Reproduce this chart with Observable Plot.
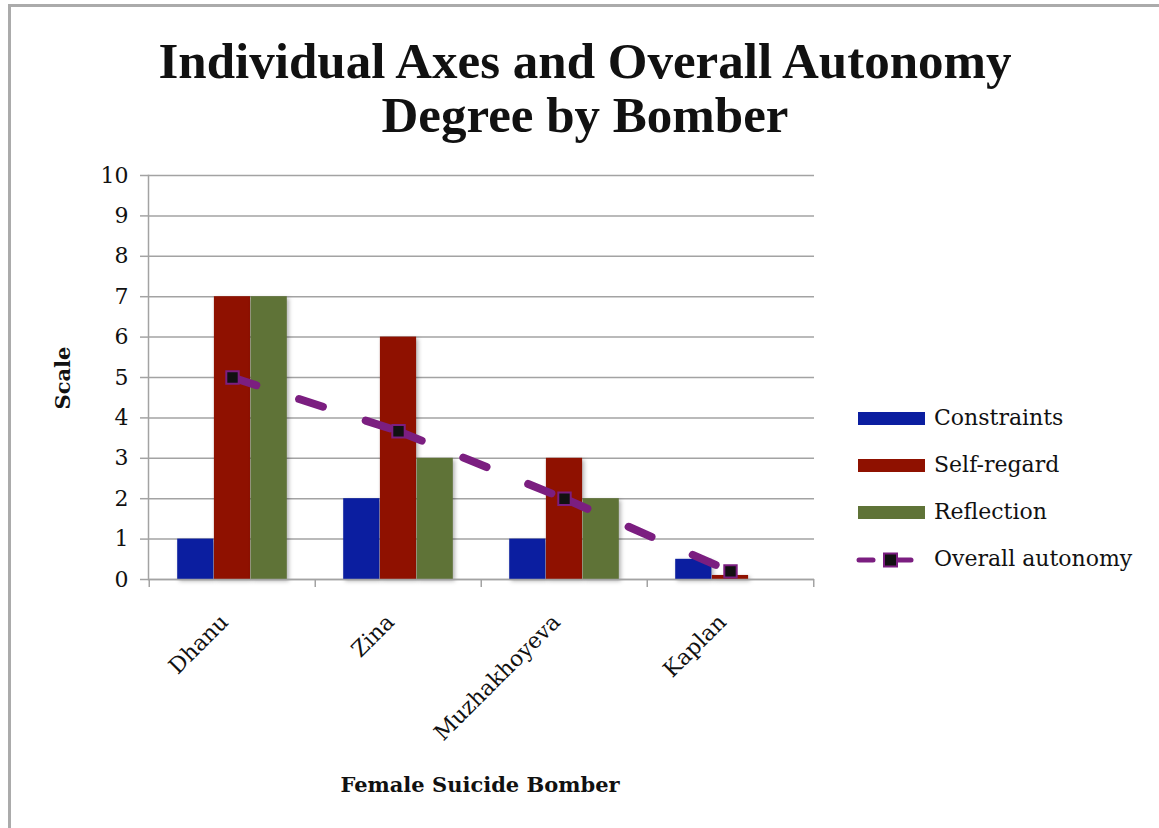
<!DOCTYPE html>
<html>
<head>
<meta charset="utf-8">
<script src="https://cdn.jsdelivr.net/npm/d3@7"></script>
<script src="https://cdn.jsdelivr.net/npm/@observablehq/plot@0.6"></script>
<style>
  html, body { margin: 0; padding: 0; background: #fff; }
  #wrap { position: relative; width: 1159px; height: 828px; overflow: hidden; font-family: "DejaVu Serif", serif; color: #111; }
  #frame { position: absolute; left: 8px; top: 4px; width: 1160px; height: 830px; border-left: 3px solid #ababab; border-top: 3px solid #ababab; box-sizing: border-box; }
  #title { position: absolute; left: 0; top: 0; width: 1170px; height: 160px; text-align: center; font-family: "Liberation Serif", serif; font-weight: bold; font-size: 51px; line-height: 54px; padding-top: 34px; box-sizing: border-box; }
  #chart { position: absolute; left: 0; top: 160px; }
  #ylab { position: absolute; left: 62px; top: 378px; transform: translate(-50%, -50%) rotate(-90deg); font-weight: bold; font-size: 21px; white-space: nowrap; }
  #xlab { position: absolute; left: 480px; top: 772px; transform: translateX(-50%); font-weight: bold; font-size: 21px; white-space: nowrap; }
  #legend { position: absolute; left: 856px; top: 402px; font-size: 22px; }
  .row { position: absolute; left: 0; height: 30px; width: 300px; }
  .sw { position: absolute; left: 2px; top: 10px; width: 67px; height: 13px; }
  .lt { position: absolute; left: 78px; top: 3px; white-space: nowrap; }
  svg g[aria-label="bar"] { filter: drop-shadow(2px 2px 2px rgba(0,0,0,0.3)); }
</style>
</head>
<body>
<div id="wrap">
  <div id="frame"></div>
  <div id="title">Individual Axes and Overall Autonomy<br>Degree by Bomber</div>
  <div id="chart"></div>
  <div id="ylab">Scale</div>
  <div id="xlab">Female Suicide Bomber</div>
  <div id="legend"></div>
</div>
<script>
// ---- data ----
const bombers = ["Dhanu", "Zina", "Muzhakhoyeva", "Kaplan"];
const constraints = [1, 2, 1, 0.5];
const selfRegard = [7, 6, 3, 0.1];
const reflection = [7, 3, 2, 0];
const overall = [5, 3.67, 2, 0.2];
const yTicks = [0, 1, 2, 3, 4, 5, 6, 7, 8, 9, 10];
const seriesNames = ["Constraints", "Self-regard", "Reflection", "Overall autonomy"];
const seriesColors = ["#0b1ea0", "#8f1100", "#5f7337", "#7b1e80"];

// ---- layout ----
const W = 1159, H = 668;
const mL = 148, mR = 345, mT = 15, mB = 249;
const bandW = (W - mL - mR) / bombers.length;
const barW = 36.7;
const inset = (bandW - barW) / 2;

const rows = bombers.map((b, i) => ({
  bomber: b, constraints: constraints[i], selfRegard: selfRegard[i],
  reflection: reflection[i], overall: overall[i]
}));
const segs = rows.slice(1).map((r, i) => ({ a: rows[i].bomber, ya: rows[i].overall, b: r.bomber, yb: r.overall }));
const gray = "#a3a3a3";

const chart = Plot.plot({
  width: W, height: H,
  marginLeft: mL, marginRight: mR, marginTop: mT, marginBottom: mB,
  style: { fontFamily: "DejaVu Serif, serif", fontSize: "22px", color: "#111", background: "transparent" },
  x: { domain: bombers, padding: 0, axis: null },
  y: { domain: [0, 10], axis: null },
  marks: [
    Plot.ruleY(yTicks, { stroke: gray, strokeWidth: 1.5 }),
    Plot.axisY({ ticks: yTicks, tickFormat: "d", tickSize: 8, tickPadding: 12, stroke: gray, strokeWidth: 1.5, fill: "#111", fontSize: 22, label: null }),
    Plot.frame({ anchor: "left", stroke: gray, strokeWidth: 1.5 }),
    Plot.barY(rows, { x: "bomber", y: "constraints", fill: seriesColors[0], dx: -barW, insetLeft: inset, insetRight: inset }),
    Plot.barY(rows, { x: "bomber", y: "selfRegard", fill: seriesColors[1], dx: 0, insetLeft: inset, insetRight: inset }),
    Plot.barY(rows, { x: "bomber", y: "reflection", fill: seriesColors[2], dx: barW, insetLeft: inset, insetRight: inset }),
    Plot.ruleY([0], { stroke: gray, strokeWidth: 1.5 }),
    Plot.ruleX(bombers, { x: d => d, dx: -bandW / 2, y1: 0, y2: 0, insetBottom: -8, stroke: gray, strokeWidth: 1.5 }),
    Plot.ruleX(bombers.slice(-1), { x: d => d, dx: bandW / 2, y1: 0, y2: 0, insetBottom: -8, stroke: gray, strokeWidth: 1.5 }),
    Plot.axisX({ tickSize: 0, tickRotate: -45, tickPadding: 39, fontSize: 22, fill: "#111", label: null, dx: -8 }),
    Plot.link(segs, { x1: "a", y1: "ya", x2: "b", y2: "yb", stroke: seriesColors[3], strokeWidth: 8, strokeDasharray: "25,45", strokeLinecap: "round" }),
    Plot.dot(rows, { x: "bomber", y: "overall", symbol: "square", r: 7, fill: "#111", stroke: seriesColors[3], strokeWidth: 2 })
  ]
});
document.getElementById("chart").appendChild(chart);

// ---- legend ----
const legend = document.getElementById("legend");
const rowTops = [0, 47, 94, 141];
seriesNames.forEach((name, i) => {
  const row = document.createElement("div");
  row.className = "row";
  row.style.top = rowTops[i] + "px";
  if (i < 3) {
    const sw = document.createElement("div");
    sw.className = "sw";
    sw.style.background = seriesColors[i];
    row.appendChild(sw);
  } else {
    const ns = "http://www.w3.org/2000/svg";
    const s = document.createElementNS(ns, "svg");
    s.setAttribute("width", 70); s.setAttribute("height", 30);
    s.style.position = "absolute"; s.style.left = "0px"; s.style.top = "1px";
    const mk = (tag, attrs) => { const e = document.createElementNS(ns, tag); for (const k in attrs) e.setAttribute(k, attrs[k]); s.appendChild(e); return e; };
    mk("line", { x1: 3, y1: 16, x2: 17, y2: 16, stroke: seriesColors[3], "stroke-width": 5, "stroke-linecap": "round" });
    mk("line", { x1: 33, y1: 16, x2: 55, y2: 16, stroke: seriesColors[3], "stroke-width": 5, "stroke-linecap": "round" });
    mk("rect", { x: 28, y: 9.5, width: 13, height: 13, fill: "#111", stroke: seriesColors[3], "stroke-width": 2 });
    row.appendChild(s);
  }
  const t = document.createElement("div");
  t.className = "lt";
  t.textContent = name;
  row.appendChild(t);
  legend.appendChild(row);
});
</script>
</body>
</html>
